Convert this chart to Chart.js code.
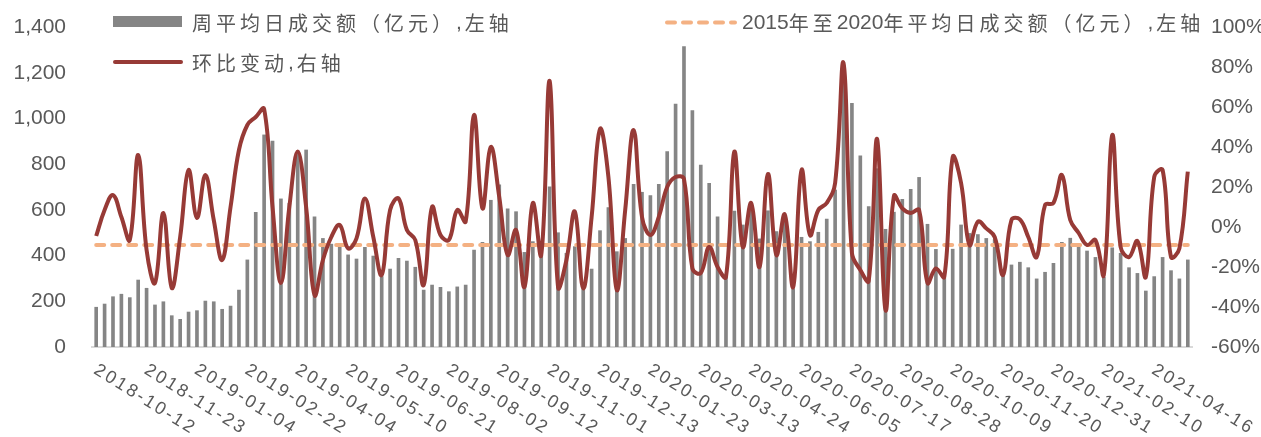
<!DOCTYPE html>
<html>
<head>
<meta charset="utf-8">
<script src="https://cdn.jsdelivr.net/npm/chart.js@4.4.1/dist/chart.umd.min.js"></script>
<style>
  html, body { margin: 0; padding: 0; background: #fff; }
  #wrap { width: 1261px; height: 437px; }
</style>
</head>
<body>
<div id="wrap"><canvas id="grafico"></canvas></div>
<script>
// tick labels shown on the x axis, one every 6 weeks
const tickLabels = ["2018-10-12", "2018-11-23", "2019-01-04", "2019-02-22", "2019-04-04", "2019-05-10",
  "2019-06-21", "2019-08-02", "2019-09-12", "2019-11-01", "2019-12-13", "2020-01-23", "2020-03-13",
  "2020-04-24", "2020-06-05", "2020-07-17", "2020-08-28", "2020-10-09", "2020-11-20", "2020-12-31",
  "2021-02-10", "2021-04-16"];
const labelEvery = 6;

// weekly average daily turnover (亿元), left axis
const turnover = [174, 188, 220, 231, 216, 293, 257, 184, 198, 137,
  121, 153, 159, 201, 198, 165, 179, 249, 381, 589,
  928, 901, 648, 629, 850, 862, 570, 475, 450, 439,
  403, 385, 436, 398, 308, 341, 388, 376, 349, 249,
  271, 261, 242, 263, 271, 424, 458, 642, 709, 604,
  592, 414, 461, 400, 701, 500, 410, 439, 255, 341,
  509, 610, 417, 475, 712, 677, 662, 712, 855, 1063,
  1314, 1034, 796, 716, 570, 305, 595, 534, 621, 473,
  596, 505, 560, 255, 480, 461, 502, 560, 687, 1200,
  1066, 836, 614, 780, 515, 590, 646, 690, 742, 537,
  427, 300, 428, 534, 497, 492, 475, 470, 310, 359,
  371, 347, 298, 327, 366, 458, 476, 450, 420, 392,
  305, 434, 410, 347, 322, 245, 308, 392, 334, 298,
  381];

// week-on-week change (%), right axis
const momChange = [-4.5, 8.5, 16, 5, -6.5, 36, -11.5, -28, 7, -30.5,
  -5, 28.5, 4.5, 26, 3.5, -16.5, 10, 38.5, 51, 55,
  59, 10, -28, 10, 37.7, 10, -34, -16.5, -5, 1,
  -10.7, -5.7, 14.3, -5, -24, 8.5, 14.3, -1.5, -6.5, -29,
  10, -4, -6.5, 8.5, 2.7, 56, 9.3, 40, 15, -14,
  -1.5, -30, 12, -14, 73, -30, -16.5, 7.7, -30.7, 5,
  49, 25, -31.5, 8.5, 48.5, 5, -4, 5, 20, 25,
  24, -20.7, -23, -10, -20, -25, 37.7, -10, 12, -20,
  26.5, -14, 6.3, -30, 28.5, -4, 8.5, 12, 22, 82,
  -13, -21.5, -27, 44, -41.5, 15.5, 9.3, 7, 8.5, -28,
  -20.7, -25, 35, 22, -9, 2.7, -0.7, -5, -24, 3.5,
  3.8, -5, -15, 11, 12, 26, 3.5, -3, -9, -6.5,
  -24, 46, -10, -15, -7, -25, 25, 28.5, -15, -10.7,
  27.7];

// 2015-2020 average daily turnover (亿元)
const avg2015to2020 = 446;

const categories = turnover.map((_, i) => (i % labelEvery === 0 ? tickLabels[i / labelEvery] : ""));
const avgLine = turnover.map(() => avg2015to2020);

const nomes = ["周平均日成交额（亿元）, 左轴", "2015年至2020年平均日成交额（亿元）, 左轴", "环比变动, 右轴"];

const CINZA = "#595959";
const COR_BARRA = "#858585";
const COR_LINHA = "#973a36";
const COR_MEDIA = "#f4b183";
const FONTE = '"Liberation Sans", Arial, sans-serif';
const FONTE_CJK = '"Noto Sans CJK SC", sans-serif';

// mixed-run text: spaced CJK glyphs, latin glyphs at their own width
function textoMisto(ctx, txt, x, y) {
  for (const ch of txt) {
    const cjk = /[\u3000-\u9fff\uff00-\uffef]/.test(ch);
    if (ch === " ") { x += 3; continue; }
    ctx.font = cjk ? "20px " + FONTE_CJK : "21px " + FONTE;
    ctx.fillText(ch, x, y);
    x += cjk ? 24 : ctx.measureText(ch).width;
  }
}

// custom legend drawn over the plot, like the original
const legenda = {
  id: "legenda",
  afterDraw(chart) {
    const ctx = chart.ctx;
    ctx.save();
    ctx.textAlign = "left";
    ctx.textBaseline = "middle";
    ctx.fillStyle = COR_BARRA;
    ctx.fillRect(113, 16, 69, 11);
    ctx.fillStyle = CINZA;
    textoMisto(ctx, nomes[0], 192, 23);

    ctx.strokeStyle = COR_MEDIA;
    ctx.lineWidth = 4;
    ctx.lineCap = "round";
    ctx.setLineDash([8, 8]);
    ctx.beginPath(); ctx.moveTo(667, 22.5); ctx.lineTo(735, 22.5); ctx.stroke();
    ctx.setLineDash([]);
    textoMisto(ctx, nomes[1], 742, 23);

    ctx.strokeStyle = COR_LINHA;
    ctx.beginPath(); ctx.moveTo(115, 62); ctx.lineTo(181, 62); ctx.stroke();
    textoMisto(ctx, nomes[2], 192, 63);
    ctx.restore();
  }
};

// slanted category labels (text runs down to the right from the tick)
const rotuloX = {
  id: "rotuloX",
  afterDraw(chart) {
    const { ctx, scales: { x } } = chart;
    ctx.save();
    ctx.fillStyle = CINZA;
    ctx.font = "18px " + FONTE;
    ctx.textAlign = "left";
    ctx.textBaseline = "top";
    categories.forEach((c, i) => {
      if (!c) return;
      ctx.save();
      ctx.translate(x.getPixelForValue(i) + 4, 361);
      ctx.rotate(32 * Math.PI / 180);
      let pos = 0;
      for (const ch of c) {
        ctx.fillText(ch, pos, 0);
        pos += ctx.measureText(ch).width + 2.5;
      }
      ctx.restore();
    });
    ctx.restore();
  }
};

new Chart(document.getElementById("grafico"), {
  data: {
    labels: categories,
    datasets: [
      {
        type: "line",
        label: nomes[2],
        data: momChange,
        yAxisID: "y1",
        borderColor: COR_LINHA,
        borderWidth: 4,
        tension: 0.4,
        pointRadius: 0,
        order: 0
      },
      {
        type: "line",
        label: nomes[1],
        data: avgLine,
        yAxisID: "y",
        borderColor: COR_MEDIA,
        borderWidth: 4,
        borderDash: [8, 8],
        borderCapStyle: "round",
        pointRadius: 0,
        order: 1
      },
      {
        type: "bar",
        label: nomes[0],
        data: turnover,
        yAxisID: "y",
        backgroundColor: COR_BARRA,
        barThickness: 3,
        order: 2
      }
    ]
  },
  options: {
    responsive: true,
    maintainAspectRatio: false,
    animation: false,
    layout: { padding: { top: 27, left: 0, right: 0, bottom: 0 } },
    plugins: { legend: { display: false }, tooltip: { enabled: false } },
    scales: {
      x: {
        grid: { display: false, drawTicks: false },
        border: { display: true, color: "#d9d9d9", width: 2 },
        ticks: { display: false, autoSkip: false },
        afterFit(s) { s.height = 90; }
      },
      y: {
        position: "left",
        min: 0,
        max: 1400,
        grid: { display: false, drawTicks: false },
        border: { display: false },
        ticks: {
          stepSize: 200,
          padding: 26,
          color: CINZA,
          font: { family: FONTE, size: 21 },
          callback: v => v.toLocaleString("en-US")
        },
        afterFit(s) { s.width = 92; s.paddingTop = 0; s.paddingBottom = 0; }
      },
      y1: {
        position: "right",
        min: -60,
        max: 100,
        grid: { display: false, drawTicks: false },
        border: { display: false },
        ticks: {
          stepSize: 20,
          padding: 19,
          color: CINZA,
          font: { family: FONTE, size: 21 },
          callback: v => v + "%"
        },
        afterFit(s) { s.width = 69; s.paddingTop = 0; s.paddingBottom = 0; }
      }
    }
  },
  plugins: [legenda, rotuloX]
});
</script>
</body>
</html>
